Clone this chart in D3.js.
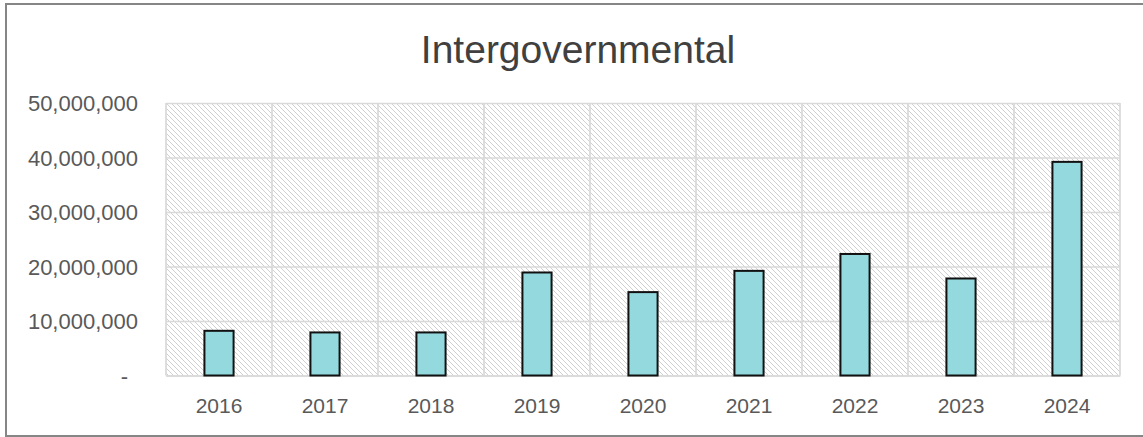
<!DOCTYPE html>
<html>
<head>
<meta charset="utf-8">
<script src="https://cdn.jsdelivr.net/npm/d3@7"></script>
<style>
  html, body { margin: 0; padding: 0; background: #fff; overflow: hidden; }
  svg { display: block; }
</style>
</head>
<body>
<svg id="chart" width="1143" height="437"></svg>
<script>
// chart values
const years = ["2016", "2017", "2018", "2019", "2020", "2021", "2022", "2023", "2024"];
const amounts = [8200000, 7900000, 7900000, 18900000, 15300000, 19200000, 22300000, 17800000, 39200000];
const yTicks = [0, 10000000, 20000000, 30000000, 40000000, 50000000];
const yTickLabels = ["-", "10,000,000", "20,000,000", "30,000,000", "40,000,000", "50,000,000"];
const chartTitle = "Intergovernmental";

const svg = d3.select("#chart");
const width = +svg.attr("width");
const height = +svg.attr("height");

const margin = { top: 103, right: 23, bottom: 61.5, left: 166 };
const innerWidth = width - margin.left - margin.right;
const innerHeight = height - margin.top - margin.bottom;
const fontFam = "'Liberation Sans', Arial, sans-serif";

// outer chart border (right edge falls outside the picture)
svg.append("path")
  .attr("d", `M${width},4 H6 V436 H${width}`)
  .attr("fill", "none")
  .attr("stroke", "#868686")
  .attr("stroke-width", 2);

// hatch pattern for the plot area
const defs = svg.append("defs");
const pat = defs.append("pattern")
  .attr("id", "hatch")
  .attr("patternUnits", "userSpaceOnUse")
  .attr("width", 5).attr("height", 5);
pat.append("path")
  .attr("d", "M-1,-1 L6,6 M-1,4 L1,6 M4,-1 L6,1")
  .attr("stroke", "#d0d0d0")
  .attr("stroke-width", 1);

// title
svg.append("text")
  .attr("x", 578)
  .attr("y", 63)
  .attr("text-anchor", "middle")
  .attr("font-family", fontFam)
  .attr("font-size", 39)
  .attr("fill", "#404040")
  .text(chartTitle);

const g = svg.append("g")
  .attr("transform", `translate(${margin.left}, ${margin.top})`);

const xScale = d3.scaleBand()
  .domain(years)
  .range([0, innerWidth])
  .paddingInner(0.725)
  .paddingOuter(0.3625);

const yScale = d3.scaleLinear()
  .domain([0, 50000000])
  .range([innerHeight, 0]);

g.append("rect")
  .attr("width", innerWidth)
  .attr("height", innerHeight)
  .attr("fill", "url(#hatch)");

// horizontal gridlines + labels
const yAxis = d3.axisLeft(yScale)
  .tickValues(yTicks)
  .tickFormat((d, i) => yTickLabels[i])
  .tickSize(-innerWidth)
  .tickPadding(28);

const yAxisG = g.append("g").call(yAxis)
  .attr("font-family", fontFam)
  .attr("font-size", 22);
yAxisG.select(".domain").remove();
yAxisG.selectAll(".tick line").attr("stroke", "#d9d9d9").attr("stroke-width", 1.7);
yAxisG.selectAll(".tick text").attr("fill", "#595959").attr("dy", "0.35em")
  .filter(d => d === 0).attr("dx", -10);

// vertical gridlines on category boundaries
const step = xScale.step();
g.append("g").selectAll("line")
  .data(d3.range(years.length + 1))
  .enter().append("line")
    .attr("x1", i => i * step).attr("x2", i => i * step)
    .attr("y1", 0).attr("y2", innerHeight)
    .attr("stroke", "#d9d9d9")
    .attr("stroke-width", 1.7);

const xAxis = d3.axisBottom(xScale).tickSize(0).tickPadding(23);
const xAxisG = g.append("g")
  .attr("transform", `translate(0, ${innerHeight})`)
  .call(xAxis)
  .attr("font-family", fontFam)
  .attr("font-size", 21);
xAxisG.select(".domain").attr("stroke", "#d9d9d9").attr("stroke-width", 1.7);
xAxisG.selectAll(".tick text").attr("fill", "#595959").attr("dy", "0.71em");

// bars
g.selectAll(".bar").data(years)
  .enter().append("rect")
    .attr("class", "bar")
    .attr("x", d => xScale(d))
    .attr("y", (d, i) => yScale(amounts[i]))
    .attr("width", xScale.bandwidth())
    .attr("height", (d, i) => innerHeight - yScale(amounts[i]))
    .attr("fill", "#93d9dd")
    .attr("stroke", "#111")
    .attr("stroke-width", 2);
</script>
</body>
</html>
